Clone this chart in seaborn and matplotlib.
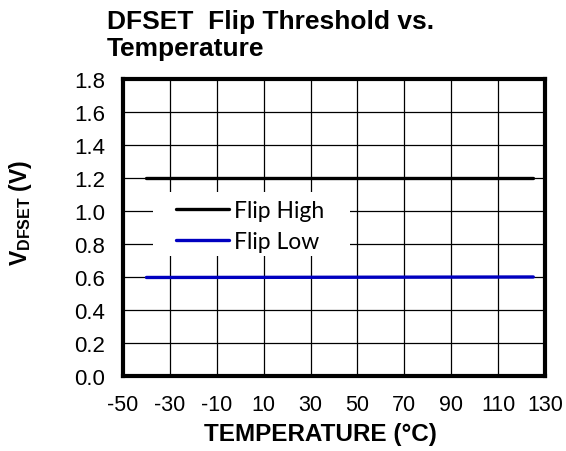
import matplotlib
matplotlib.use('Agg')
import matplotlib.pyplot as plt
import pandas as pd
import seaborn as sns
from matplotlib.patches import Rectangle

# values
temps = [-40, 25, 125]
flip_high = [1.2, 1.2, 1.2]
flip_low = [0.597, 0.598, 0.6]
x_ticks = [-50, -30, -10, 10, 30, 50, 70, 90, 110, 130]
y_ticks = [0.0, 0.2, 0.4, 0.6, 0.8, 1.0, 1.2, 1.4, 1.6, 1.8]

df = pd.DataFrame({
    'temp': temps * 2,
    'v': flip_high + flip_low,
    'series': ['Flip High'] * len(temps) + ['Flip Low'] * len(temps),
})

sns.set_theme(style='white')
plt.rcParams['font.family'] = ['Liberation Sans', 'DejaVu Sans']
plt.rcParams['mathtext.fontset'] = 'custom'
plt.rcParams['mathtext.rm'] = 'Liberation Sans'
plt.rcParams['mathtext.bf'] = 'Liberation Sans:bold'
for k in ['text.color', 'axes.labelcolor', 'xtick.color', 'ytick.color']:
    plt.rcParams[k] = 'black'

fig = plt.figure(figsize=(5.66, 4.52), dpi=100)
ax = fig.add_axes([0.2173, 0.166, 0.7456, 0.657])

sns.lineplot(data=df, x='temp', y='v', hue='series',
             palette={'Flip High': 'black', 'Flip Low': '#0000c0'},
             linewidth=2.4, ax=ax, zorder=3)

ax.set_xlim(-50, 130)
ax.set_ylim(0, 1.8)
ax.set_xticks(x_ticks)
ax.set_yticks(y_ticks)
ax.set_xticklabels([str(t) for t in x_ticks], fontsize=15.5)
ax.set_yticklabels(['%.1f' % t for t in y_ticks], fontsize=16)
ax.tick_params(axis='y', length=0, pad=13)
ax.tick_params(axis='x', length=0, pad=13)
ax.grid(True, color='black', linewidth=0.9)
for s in ax.spines.values():
    s.set_linewidth(3)
    s.set_color('black')

ax.set_xlabel('TEMPERATURE (°C)', fontsize=17.5, fontweight='bold')
ax.set_ylabel(r'V$_{\mathbf{DFSET}}$ (V)', fontsize=16.5, fontweight='bold')
ax.xaxis.set_label_coords(0.469, -0.155)
ax.yaxis.set_label_coords(-0.212, 0.552)

fig.text(0.189, 0.978, 'DFSET  Flip Threshold vs.\nTemperature', fontsize=19,
         fontweight='bold', ha='left', va='top', linespacing=1.15)

# white box behind the legend, hiding the grid
ax.add_patch(Rectangle((0.071, 0.404), 0.467, 0.216, transform=ax.transAxes,
                       facecolor='white', edgecolor='none', zorder=1.5))

leg = ax.legend(loc='center left', bbox_to_anchor=(0.1256, 0.505), frameon=False,
                prop={'family': 'Lato', 'size': 16.5},
                handlelength=2.3, handletextpad=0.22, labelspacing=0.45,
                borderpad=0, borderaxespad=0)
leg.set_zorder(5)

fig.savefig('out.png', dpi=100, facecolor='white')
